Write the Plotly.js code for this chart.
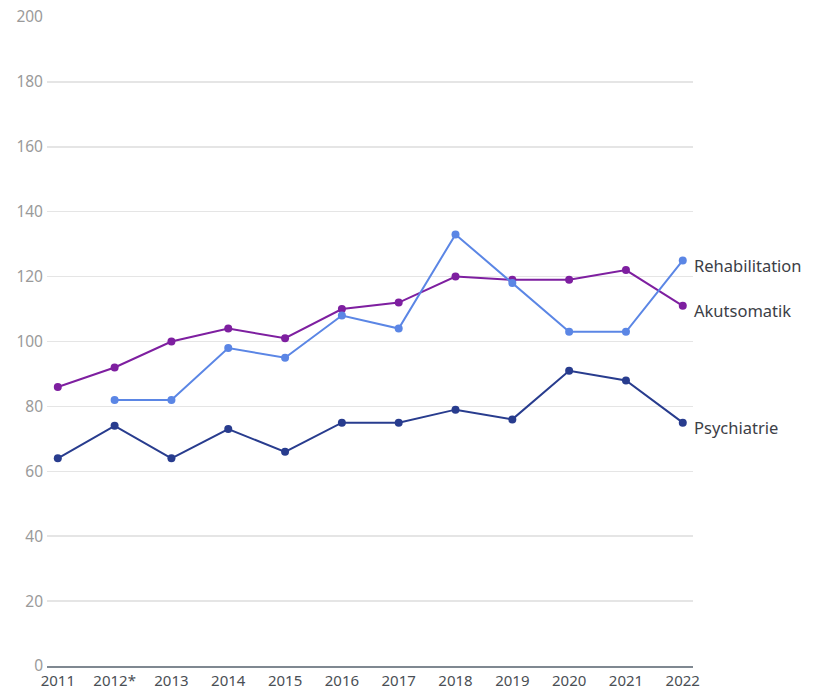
<!DOCTYPE html>
<html>
<head>
<meta charset="utf-8">
<script src="https://cdn.plot.ly/plotly-3.0.1.min.js"></script>
<style>html,body{margin:0;padding:0;background:#fff;}#chart{width:819px;height:690px;}</style>
</head>
<body>
<div id="chart"></div>
<script>
var years = ["2011","2012*","2013","2014","2015","2016","2017","2018","2019","2020","2021","2022"];
var akutsomatik = [86,92,100,104,101,110,112,120,119,119,122,111];
var rehabilitation = [null,82,82,98,95,108,104,133,118,103,103,125];
var psychiatrie = [64,74,64,73,66,75,75,79,76,91,88,75];
var yTicks = [0,20,40,60,80,100,120,140,160,180,200];

var series = [
  {name:"Akutsomatik", y:akutsomatik, color:"#7e1fa0"},
  {name:"Rehabilitation", y:rehabilitation, color:"#5b86e5"},
  {name:"Psychiatrie", y:psychiatrie, color:"#283c8e"}
];
var idx = years.map(function(_, i){return i;});
var traces = series.map(function(s){
  return {x: idx, y: s.y, name: s.name, type:"scatter", mode:"lines+markers",
    line:{color:s.color, width:2}, marker:{color:s.color, size:8}, connectgaps:false, hoverinfo:"skip"};
});
var last = years.length - 1;
var annotations = series.map(function(s){
  return {x: last, y: s.y[last], xref:"x", yref:"y", text: s.name, showarrow:false,
    xanchor:"left", yanchor:"middle", xshift:9, yshift:-5,
    font:{family:"Noto Sans, sans-serif", size:16.5, color:"#3c4046"}};
});
var layout = {
  width:819, height:690,
  margin:{l:47, r:126, t:17, b:24},
  paper_bgcolor:"#fff", plot_bgcolor:"#fff",
  showlegend:false,
  font:{family:"Noto Sans, sans-serif"},
  xaxis:{tickvals: idx, ticktext: years, range:[-0.19, 11.18], showgrid:false, zeroline:false,
    showline:true, linecolor:"#7f8891", linewidth:2, ticks:"", ticklabelstandoff:0,
    tickfont:{size:15, color:"#4a4f55"}},
  yaxis:{range:[0,200], tickvals:yTicks, showgrid:true, gridcolor:"#e5e5e5", gridwidth:1.5,
    zeroline:false, ticks:"", ticklabelstandoff:3, tickfont:{size:15.5, color:"#9a9a9a"}},
  annotations: annotations
};
Plotly.newPlot("chart", traces, layout, {staticPlot:true});
</script>
</body>
</html>
